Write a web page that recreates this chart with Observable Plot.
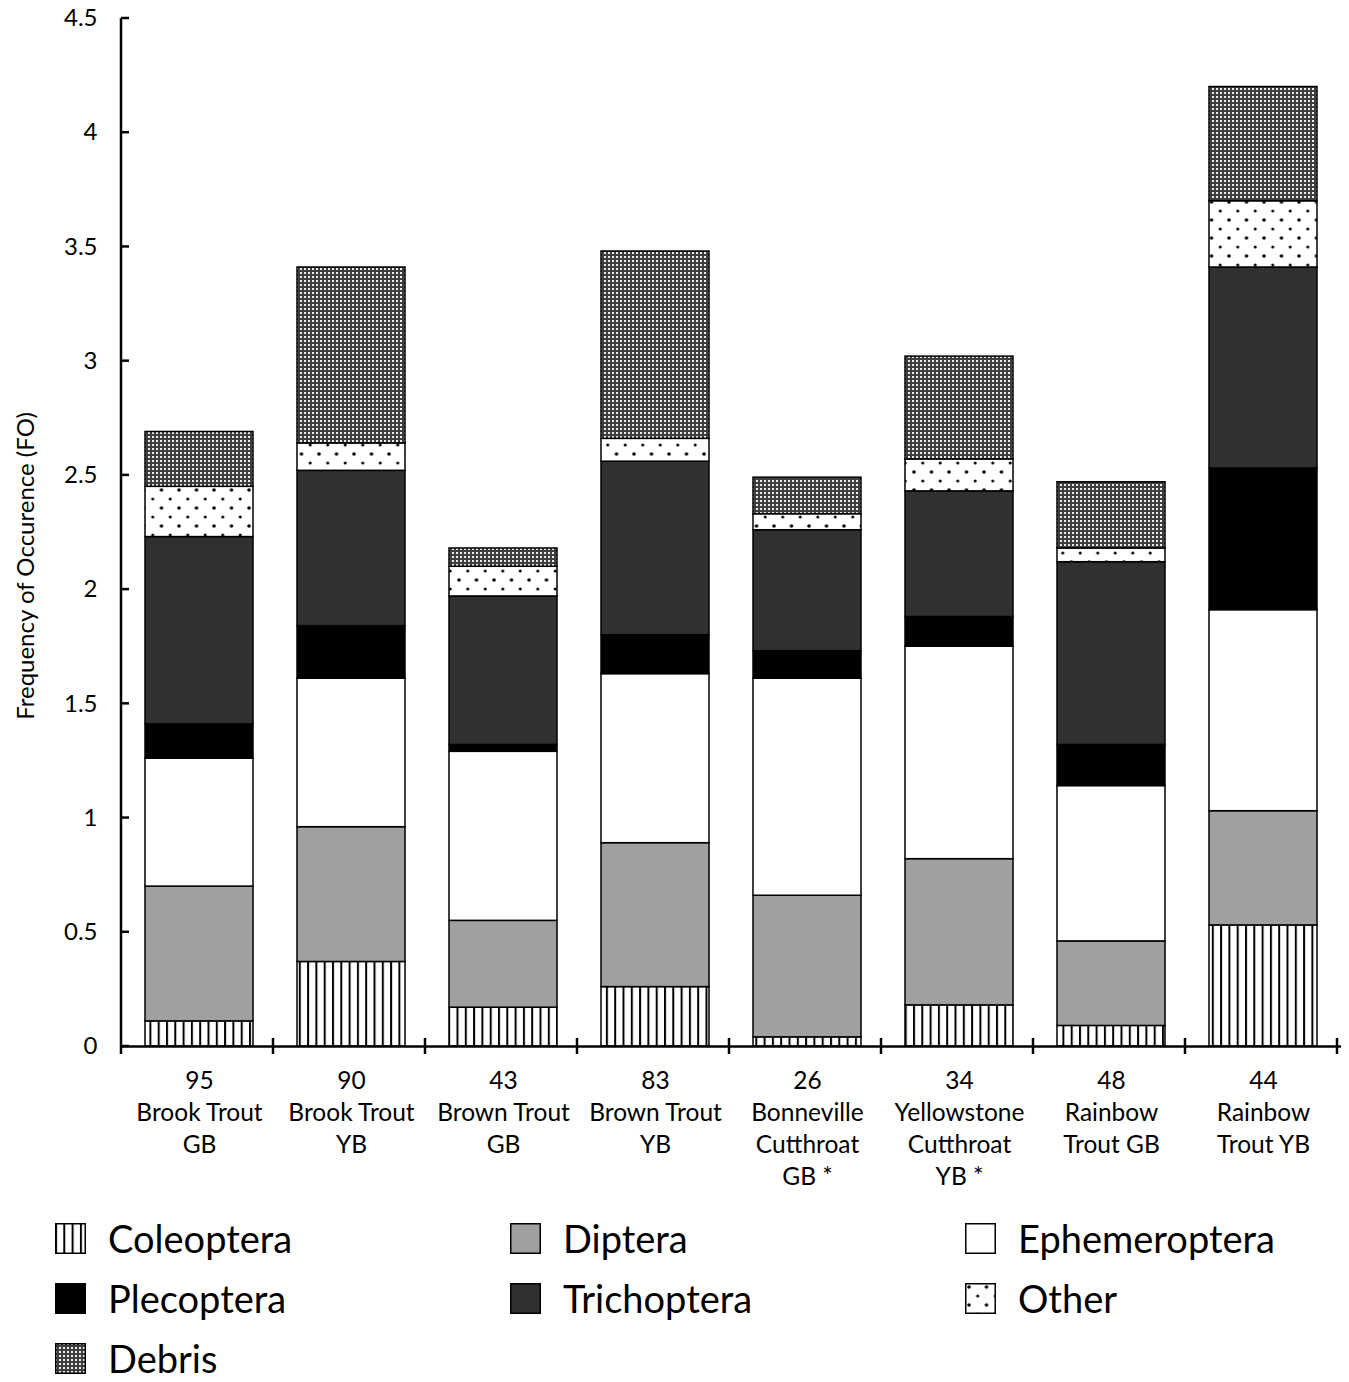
<!DOCTYPE html>
<html><head><meta charset="utf-8">
<script src="https://cdn.jsdelivr.net/npm/d3@7"></script>
<script src="https://cdn.jsdelivr.net/npm/@observablehq/plot@0.6"></script>
<style>
body{margin:0;background:#fff;font-family:Lato, "Open Sans", sans-serif;color:#000;overflow:hidden;}
#chart{width:1349px;height:1198px;}
#legend{position:relative;width:1349px;height:184px;}
.item{position:absolute;display:flex;align-items:center;height:34px;font-size:38px;line-height:0.85;white-space:nowrap;}
.item svg{margin-right:22px;flex:none;}
.item span{line-height:0.85;display:inline-block;}
</style></head><body>
<div id="chart"></div>
<div id="legend"></div>
<script>
const categories = ["95\nBrook Trout\nGB","90\nBrook Trout\nYB","43\nBrown Trout\nGB","83\nBrown Trout\nYB","26\nBonneville\nCutthroat\nGB *","34\nYellowstone\nCutthroat\nYB *","48\nRainbow\nTrout GB","44\nRainbow\nTrout YB"];
const series = ["Coleoptera","Diptera","Ephemeroptera","Plecoptera","Trichoptera","Other","Debris"];
const coleoptera    = [0.11,0.37,0.17,0.26,0.04,0.18,0.09,0.53];
const diptera       = [0.59,0.59,0.38,0.63,0.62,0.64,0.37,0.50];
const ephemeroptera = [0.56,0.65,0.74,0.74,0.95,0.93,0.68,0.88];
const plecoptera    = [0.15,0.23,0.03,0.17,0.12,0.13,0.18,0.62];
const trichoptera   = [0.82,0.68,0.65,0.76,0.53,0.55,0.80,0.88];
const other         = [0.22,0.12,0.13,0.10,0.07,0.14,0.06,0.29];
const debris        = [0.24,0.77,0.08,0.82,0.16,0.45,0.29,0.50];
const yTicks = [0,0.5,1,1.5,2,2.5,3,3.5,4,4.5];
const yLabel = "Frequency of Occurence (FO)";
const fills = ["url(#pat-coleo)","#a0a0a0","#ffffff","#000000","#303030","url(#pat-other)","url(#pat-debris)"];

const seriesValues = [coleoptera,diptera,ephemeroptera,plecoptera,trichoptera,other,debris];
const data = [];
series.forEach((s,i)=>categories.forEach((c,j)=>data.push({category:c,series:s,value:seriesValues[i][j]})));

const plot = Plot.plot({
  width:1349, height:1198,
  marginLeft:121, marginRight:8, marginTop:18, marginBottom:152,
  style:{fontFamily:"Lato, 'Open Sans', sans-serif", fontSize:"24px", color:"#000", background:"#fff", overflow:"visible"},
  x:{domain:categories, paddingInner:0.29, paddingOuter:0.145},
  y:{domain:[0,4.5]},
  color:{domain:series, range:fills},
  marks:[
    Plot.barY(data,{x:"category", y:"value", fill:"series", stroke:"#000", strokeWidth:1.5}),
    Plot.axisY(yTicks,{tickSize:0, tickPadding:24, label:null, fontSize:24, tickFormat:d=>String(d)}),
    Plot.axisX({tickSize:0, tickPadding:20, label:null, lineHeight:1.3, fontSize:24.5}),
    Plot.ruleY([0],{stroke:"#000", strokeWidth:2.5})
  ]
});
document.getElementById("chart").appendChild(plot);

const svg = d3.select(plot);
const defs = svg.insert("defs",":first-child");
// Coleoptera: vertical stripes
const pc = defs.append("pattern").attr("id","pat-coleo").attr("patternUnits","userSpaceOnUse").attr("width",8.3).attr("height",10);
pc.append("rect").attr("width",8.3).attr("height",10).attr("fill","#fff");
pc.append("rect").attr("x",0).attr("width",2).attr("height",10).attr("fill","#000");
// Other: staggered dots
const po = defs.append("pattern").attr("id","pat-other").attr("patternUnits","userSpaceOnUse").attr("width",17.5).attr("height",18);
po.append("rect").attr("width",17.5).attr("height",18).attr("fill","#fff");
po.append("circle").attr("cx",4).attr("cy",4).attr("r",1.8).attr("fill","#000");
po.append("circle").attr("cx",12.75).attr("cy",13).attr("r",1.5).attr("fill","#000");
// Debris: dense checker
const pd = defs.append("pattern").attr("id","pat-debris").attr("patternUnits","userSpaceOnUse").attr("width",4).attr("height",4);
pd.append("rect").attr("width",4).attr("height",4).attr("fill","#3e3e3e");
pd.append("rect").attr("x",0).attr("y",0).attr("width",2).attr("height",2).attr("fill","#ececec");

const xs = plot.scale("x"), ys = plot.scale("y");
const x0 = xs.range[0], step = xs.step;
const yBase = ys.apply(0), yTop = ys.apply(4.5);
const g = svg.append("g").attr("stroke","#000").attr("stroke-width",2.5);
// y axis line
g.append("line").attr("x1",x0).attr("x2",x0).attr("y1",yTop).attr("y2",yBase+8);
// y ticks (inward)
yTicks.forEach(t=>g.append("line").attr("x1",x0).attr("x2",x0+8).attr("y1",ys.apply(t)).attr("y2",ys.apply(t)));
// x boundary ticks
for(let i=1;i<=categories.length;i++){
  const xp = x0 + i*step;
  g.append("line").attr("x1",xp).attr("x2",xp).attr("y1",yBase-8).attr("y2",yBase+8);
}
// y axis title
svg.append("text").attr("transform",`translate(24,${(yTop+yBase)/2+34}) rotate(-90)`)
  .attr("text-anchor","middle").attr("dominant-baseline","central")
  .attr("font-size",24).attr("fill","#000").text(yLabel);

// Legend
const legend = d3.select("#legend");
const cols = [55,510,965];
series.forEach((s,i)=>{
  const col = i%3, row = Math.floor(i/3);
  const it = legend.append("div").attr("class","item").style("left",cols[col]+"px").style("top",(40-17+row*60)+"px");
  const sw = it.append("svg").attr("width",31).attr("height",31);
  sw.append("rect").attr("x",0.75).attr("y",0.75).attr("width",29.5).attr("height",29.5)
    .attr("fill",fills[i]).attr("stroke","#000").attr("stroke-width",1.5);
  it.append("span").text(s);
});
</script>
</body></html>
